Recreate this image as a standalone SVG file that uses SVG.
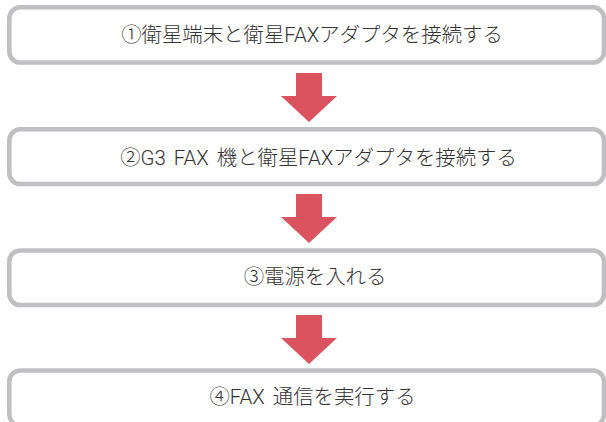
<svg xmlns="http://www.w3.org/2000/svg" width="606" height="422" viewBox="0 0 606 422">
<style>
.box{fill:#ffffff;stroke:#c0c0c4;stroke-width:4.6}
.lbl{font-family:Roboto,"Noto Sans CJK JP",sans-serif;font-size:20.4px;font-weight:300;fill:#333333;text-anchor:middle;word-spacing:3px}
.arr{fill:#dc5360}
</style>
<rect width="606" height="422" fill="#ffffff"/>
<g id="connectors">
<path class="arr" d="M296,73 H322 V96 H337 L309,122 L281,96 H296 Z"/>
<path class="arr" d="M296,194 H322 V217 H337 L309,243 L281,217 H296 Z"/>
<path class="arr" d="M296,315 H322 V338 H337 L309,364 L281,338 H296 Z"/>
</g>
<g id="node1">
<rect class="box" x="9.3" y="7.3" width="594.7" height="55.2" rx="11"/>
<text class="lbl" x="312" y="42">①衛星端末と衛星FAXアダプタを接続する</text>
</g>
<g id="node2">
<rect class="box" x="9.3" y="129.3" width="594.7" height="54.7" rx="11"/>
<text class="lbl" x="318.5" y="164.5">②G3 FAX 機と衛星FAXアダプタを接続する</text>
</g>
<g id="node3">
<rect class="box" x="9.3" y="250.5" width="594.7" height="54.5" rx="11"/>
<text class="lbl" x="315" y="284">③電源を入れる</text>
</g>
<g id="node4">
<rect class="box" x="9.3" y="370.5" width="594.7" height="55" rx="11"/>
<text class="lbl" x="312.5" y="404">④FAX 通信を実行する</text>
</g>
</svg>
